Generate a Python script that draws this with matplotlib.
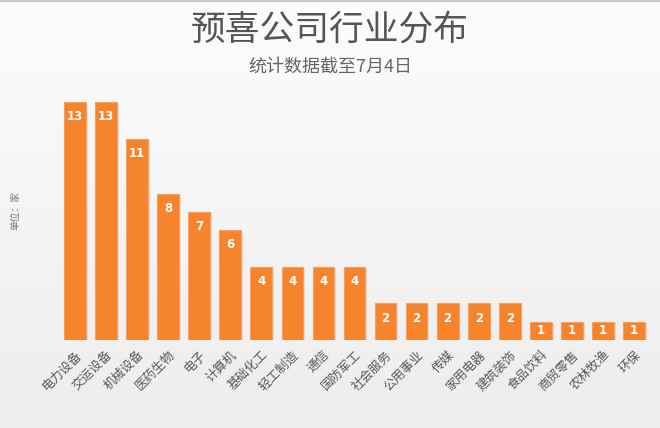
import matplotlib
matplotlib.use("Agg")
import matplotlib.pyplot as plt
import numpy as np

plt.rcParams['font.family'] = ['Noto Sans CJK SC', 'DejaVu Sans']

categories = ["电力设备", "交运设备", "机械设备", "医药生物", "电子", "计算机", "基础化工",
              "轻工制造", "通信", "国防军工", "社会服务", "公用事业", "传媒", "家用电器",
              "建筑装饰", "食品饮料", "商贸零售", "农林牧渔", "环保"]
values = [13, 13, 11, 8, 7, 6, 4, 4, 4, 4, 2, 2, 2, 2, 2, 1, 1, 1, 1]
title = "预喜公司行业分布"
subtitle = "统计数据截至7月4日"
unit_label = "单位：家"

W, H = 660, 428
fig = plt.figure(figsize=(W / 100, H / 100), dpi=100)

# background gradient
bg = fig.add_axes([0, 0, 1, 1])
grad = np.linspace(1.0, 0.0, 256).reshape(-1, 1)
top_c = np.array([0.99, 0.99, 0.99])
bot_c = np.array([0.93, 0.93, 0.93])
img = grad[..., None] * top_c + (1 - grad[..., None]) * bot_c
bg.imshow(img, aspect='auto', extent=[0, 1, 0, 1])
bg.axhline(0.997, color='#c8c8c8', lw=1.5)
bg.axis('off')

ax = fig.add_axes([59.5 / W, 88 / H, 590 / W, 256 / H])
ax.set_facecolor('none')
x = np.arange(len(categories))
ax.bar(x, values, width=0.7, color='#F5842C', edgecolor='#F9A060', linewidth=0.8, zorder=2)
ax.bar(x + 0.06, values, width=0.7, bottom=-0.08, color='#000000', alpha=0.08, zorder=1)
ax.set_xlim(-0.5, len(categories) - 0.5)
ax.set_ylim(0, 14)
for s in ax.spines.values():
    s.set_visible(False)
ax.set_yticks([])
ax.set_xticks(x)
ax.set_xticklabels(categories, rotation=45, ha='right', va='top', rotation_mode='anchor',
                   fontsize=9, color='#595959')
ax.tick_params(axis='x', length=0, pad=6)
for xi, v in zip(x, values):
    yv = max(v - 0.8, v / 2)
    ax.text(xi, yv, str(v), ha='center', va='center', color='white', fontsize=8.5,
            fontweight='bold', family=['DejaVu Sans'], zorder=3)

fig.text(0.5, 1 - 30 / H, title, ha='center', va='center', fontsize=25, color='#555555')
fig.text(0.5, 1 - 67 / H, subtitle, ha='center', va='center', fontsize=13, color='#666666')
fig.text(15 / W, 1 - 210 / H, unit_label, ha='center', va='center', rotation=90,
         fontsize=7, color='#777777')

fig.savefig("out.png", dpi=100)
